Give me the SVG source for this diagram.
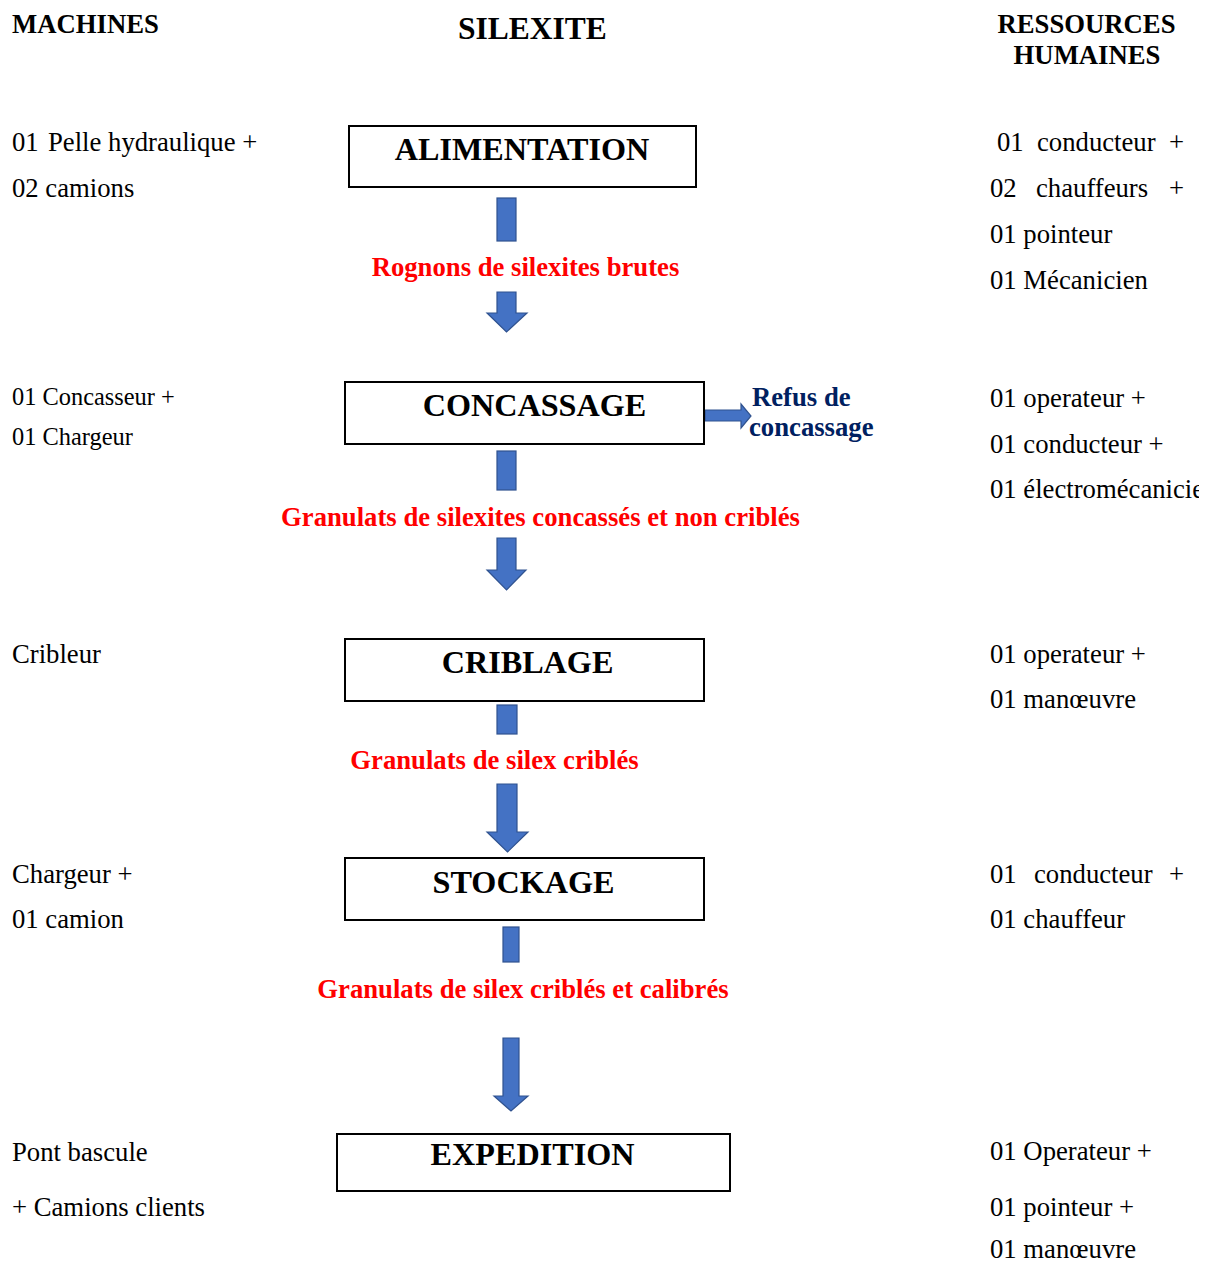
<svg xmlns="http://www.w3.org/2000/svg" width="1214" height="1264" viewBox="0 0 1214 1264">
<style>
.hdr{font-family:"Liberation Serif","Times New Roman",serif;font-weight:bold;font-size:26.7px;fill:#000}
.title{font-family:"Liberation Serif","Times New Roman",serif;font-weight:bold;font-size:31.5px;fill:#000}
.box{fill:#fff;stroke:#000;stroke-width:2}
.lbl{font-family:"Liberation Serif","Times New Roman",serif;font-weight:bold;font-size:32.2px;fill:#000;text-anchor:middle}
.red{font-family:"Liberation Serif","Times New Roman",serif;font-weight:bold;font-size:26.7px;fill:#FF0000;text-anchor:middle}
.navy{font-family:"Liberation Serif","Times New Roman",serif;font-weight:bold;font-size:26.7px;fill:#002060}
.txt{font-family:"Liberation Serif","Times New Roman",serif;font-size:26.7px;fill:#000}
.sm{font-family:"Liberation Serif","Times New Roman",serif;font-size:24.4px;fill:#000}
.arr{fill:#4472C4;stroke:#2F528F;stroke-width:1.2}
</style>
<defs>
<clipPath id="pageclip"><rect x="0" y="0" width="1199" height="1264"/></clipPath>
</defs>
<rect x="0" y="0" width="1214" height="1264" fill="#fff"/>

<g id="headers">
<text class="hdr" x="12" y="33">MACHINES</text>
<text class="title" x="458" y="39">SILEXITE</text>
<text class="hdr" x="1086.5" y="33" text-anchor="middle">RESSOURCES</text>
<text class="hdr" x="1087" y="64" text-anchor="middle">HUMAINES</text>
</g>

<g id="connectors">
<rect class="arr" x="497" y="198" width="19" height="43"/>
<path class="arr" d="M497,292 H516 V313 H527 L506.5,332 L487,313 H497 Z"/>
<rect class="arr" x="497" y="451" width="19" height="39"/>
<path class="arr" d="M497,538 H516 V570 H526 L506.5,590 L487,570 H497 Z"/>
<path class="arr" d="M705,410 H741 V404 L751,416 L741,428 V421 H705 Z"/>
<rect class="arr" x="497" y="705" width="20" height="29"/>
<path class="arr" d="M497,784 H517 V832 H528 L507.5,852 L487,832 H497 Z"/>
<rect class="arr" x="503" y="927" width="16" height="35"/>
<path class="arr" d="M503,1038 H519 V1096 H528 L511,1111 L494,1096 H503 Z"/>
</g>

<g id="node-alimentation">
<rect class="box" x="349" y="126" width="347" height="61"/>
<text class="lbl" x="522" y="160">ALIMENTATION</text>
</g>
<g id="node-concassage">
<rect class="box" x="345" y="382" width="359" height="62"/>
<text class="lbl" x="534.5" y="416">CONCASSAGE</text>
</g>
<g id="node-criblage">
<rect class="box" x="345" y="639" width="359" height="62"/>
<text class="lbl" x="527.5" y="673">CRIBLAGE</text>
</g>
<g id="node-stockage">
<rect class="box" x="345" y="858" width="359" height="62"/>
<text class="lbl" x="523.5" y="893">STOCKAGE</text>
</g>
<g id="node-expedition">
<rect class="box" x="337" y="1134" width="393" height="57"/>
<text class="lbl" x="532.5" y="1165">EXPEDITION</text>
</g>

<g id="flow-labels">
<text class="red" x="525.5" y="276">Rognons de silexites brutes</text>
<text class="red" x="540.5" y="526">Granulats de silexites concassés et non criblés</text>
<text class="red" x="494.5" y="769">Granulats de silex criblés</text>
<text class="red" x="523" y="998">Granulats de silex criblés et calibrés</text>
<text class="navy" x="752" y="406">Refus de</text>
<text class="navy" x="749" y="436">concassage</text>
</g>

<g id="machines">
<text class="txt" x="12" y="151">01</text><text class="txt" x="48" y="151">Pelle hydraulique +</text>
<text class="txt" x="12" y="197">02 camions</text>
<text class="sm" x="12" y="405">01 Concasseur +</text>
<text class="sm" x="12" y="445">01 Chargeur</text>
<text class="txt" x="12" y="663">Cribleur</text>
<text class="txt" x="12" y="883">Chargeur +</text>
<text class="txt" x="12" y="928">01 camion</text>
<text class="txt" x="12" y="1161">Pont bascule</text>
<text class="txt" x="12" y="1216">+ Camions clients</text>
</g>

<g id="ressources" clip-path="url(#pageclip)">
<text class="txt" x="997" y="151">01</text><text class="txt" x="1037" y="151">conducteur</text><text class="txt" x="1169" y="151">+</text>
<text class="txt" x="990" y="197">02</text><text class="txt" x="1036" y="197">chauffeurs</text><text class="txt" x="1169" y="197">+</text>
<text class="txt" x="990" y="243">01 pointeur</text>
<text class="txt" x="990" y="289">01 Mécanicien</text>
<text class="txt" x="990" y="407">01 operateur +</text>
<text class="txt" x="990" y="453">01 conducteur +</text>
<text class="txt" x="990" y="498">01 électromécanicien</text>
<text class="txt" x="990" y="663">01 operateur +</text>
<text class="txt" x="990" y="708">01 manœuvre</text>
<text class="txt" x="990" y="883">01</text><text class="txt" x="1034" y="883">conducteur</text><text class="txt" x="1169" y="883">+</text>
<text class="txt" x="990" y="928">01 chauffeur</text>
<text class="txt" x="990" y="1160">01 Operateur +</text>
<text class="txt" x="990" y="1216">01 pointeur +</text>
<text class="txt" x="990" y="1258">01 manœuvre</text>
</g>
</svg>
